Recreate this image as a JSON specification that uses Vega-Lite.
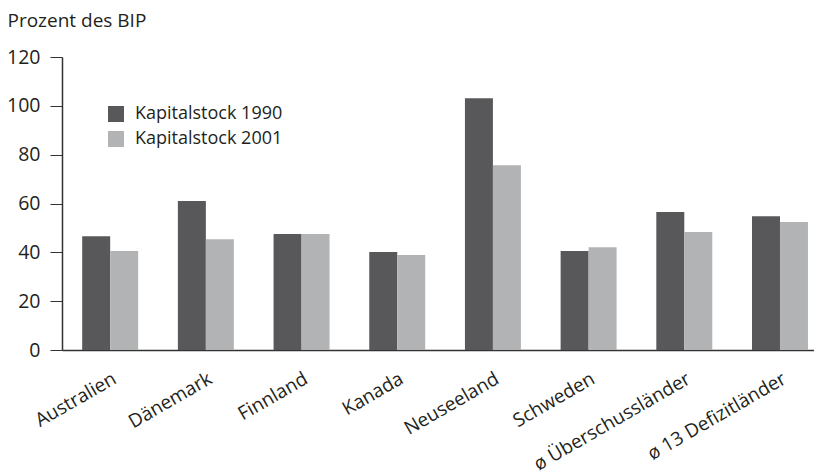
{
  "$schema": "https://vega.github.io/schema/vega-lite/v6.json",
  "width": 752,
  "height": 293,
  "autosize": {"type": "none"},
  "padding": {"left": 62, "top": 57, "right": 0, "bottom": 124},
  "config": {"font": "Open Sans", "view": {"stroke": null}},
  "data": {"values": [
    {"land": "Australien", "serie": "Kapitalstock 1990", "wert": 46.6},
    {"land": "Australien", "serie": "Kapitalstock 2001", "wert": 40.5},
    {"land": "Dänemark", "serie": "Kapitalstock 1990", "wert": 61.0},
    {"land": "Dänemark", "serie": "Kapitalstock 2001", "wert": 45.4},
    {"land": "Finnland", "serie": "Kapitalstock 1990", "wert": 47.5},
    {"land": "Finnland", "serie": "Kapitalstock 2001", "wert": 47.5},
    {"land": "Kanada", "serie": "Kapitalstock 1990", "wert": 40.1},
    {"land": "Kanada", "serie": "Kapitalstock 2001", "wert": 38.9},
    {"land": "Neuseeland", "serie": "Kapitalstock 1990", "wert": 103.1},
    {"land": "Neuseeland", "serie": "Kapitalstock 2001", "wert": 75.7},
    {"land": "Schweden", "serie": "Kapitalstock 1990", "wert": 40.5},
    {"land": "Schweden", "serie": "Kapitalstock 2001", "wert": 42.1},
    {"land": "ø Überschussländer", "serie": "Kapitalstock 1990", "wert": 56.5},
    {"land": "ø Überschussländer", "serie": "Kapitalstock 2001", "wert": 48.3},
    {"land": "ø 13 Defizitländer", "serie": "Kapitalstock 1990", "wert": 54.8},
    {"land": "ø 13 Defizitländer", "serie": "Kapitalstock 2001", "wert": 52.4}
  ]},
  "mark": {"type": "bar"},
  "encoding": {
    "x": {
      "field": "land", "type": "nominal", "sort": null,
      "scale": {"paddingInner": 0.415, "paddingOuter": 0.137, "align": 0.77},
      "axis": {"title": null, "labelAngle": -30, "ticks": false, "labelFontSize": 19, "labelPadding": 19, "labelColor": "#231f20", "domainColor": "#333333", "domainWidth": 1.5}
    },
    "xOffset": {"field": "serie", "type": "nominal", "scale": {"paddingInner": 0, "paddingOuter": 0}},
    "y": {
      "field": "wert", "type": "quantitative",
      "scale": {"domain": [0, 120]},
      "axis": {"values": [0, 20, 40, 60, 80, 100, 120], "grid": false, "title": "Prozent des BIP", "titleAngle": 0, "titleAlign": "left", "titleBaseline": "alphabetic", "titleX": -55, "titleY": -31, "titleFontSize": 19, "titleFontWeight": "normal", "titleColor": "#231f20", "labelFontSize": 19.5, "labelColor": "#231f20", "labelPadding": 10, "tickSize": 12, "tickColor": "#333333", "domainColor": "#333333", "domainWidth": 1.5}
    },
    "color": {
      "field": "serie", "type": "nominal",
      "scale": {"range": ["#58585a", "#b2b3b4"]},
      "legend": {"title": null, "orient": "none", "legendX": 45, "legendY": 48, "padding": 0, "symbolType": "square", "symbolSize": 256, "symbolStrokeWidth": 0, "labelFontSize": 18, "labelColor": "#231f20", "labelOffset": 10, "rowPadding": 7}
    }
  }
}
